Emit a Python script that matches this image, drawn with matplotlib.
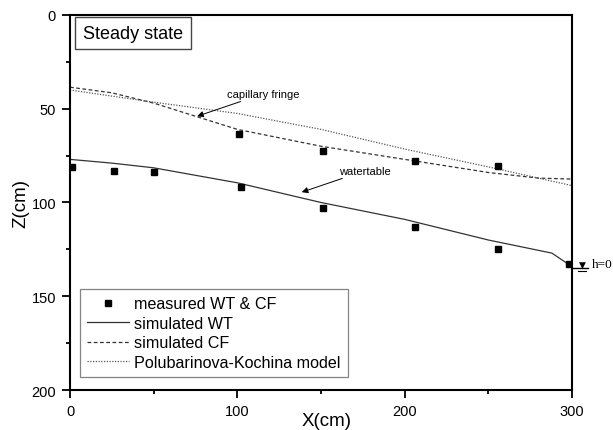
import matplotlib
matplotlib.use("Agg")
import matplotlib.pyplot as plt
from matplotlib.ticker import MultipleLocator

plt.rcParams['font.family'] = ['Liberation Sans', 'DejaVu Sans']

# measured points (water table and capillary fringe)
meas_wt_x = [1, 26, 50, 102, 151, 206, 256, 298]
meas_wt_z = [81, 83, 84, 92, 103, 113, 125, 133]
meas_cf_x = [101, 151, 206, 256]
meas_cf_z = [63.5, 72.5, 78, 80.5]

# simulated water table
sim_wt_x = [0, 25, 50, 100, 150, 200, 250, 288, 298]
sim_wt_z = [77, 79, 81.5, 89.5, 100, 109, 120, 127, 133]

# simulated capillary fringe
sim_cf_x = [0, 25, 50, 75, 100, 150, 200, 250, 280, 300]
sim_cf_z = [38.5, 41.5, 47, 54, 61, 70, 77, 84, 87, 87.5]

# Polubarinova-Kochina model
pk_x = [0, 50, 100, 150, 200, 250, 300]
pk_z = [40, 46.5, 52.5, 61, 71.5, 81, 91]

fig = plt.figure(figsize=(6.13, 4.31), dpi=100)
ax = fig.add_axes([0.1142, 0.0928, 0.8189, 0.8701])

ax.plot(meas_wt_x + meas_cf_x, meas_wt_z + meas_cf_z, 's', color='black',
        markersize=4, linestyle='none', label='measured WT & CF', zorder=5)
ax.plot(sim_wt_x, sim_wt_z, '-', color='#333333', lw=0.9, label='simulated WT')
ax.plot(sim_cf_x, sim_cf_z, color='#333333', lw=0.9, linestyle=(0, (3, 2)),
        label='simulated CF')
ax.plot(pk_x, pk_z, color='#555555', lw=0.9, linestyle=(0, (1, 1.2)),
        label='Polubarinova-Kochina model')

ax.set_xlim(0, 300)
ax.set_ylim(200, 0)
ax.xaxis.set_major_locator(MultipleLocator(100))
ax.xaxis.set_minor_locator(MultipleLocator(50))
ax.yaxis.set_major_locator(MultipleLocator(50))
ax.yaxis.set_minor_locator(MultipleLocator(25))
ax.tick_params(which='major', direction='out', length=6, width=1.3,
               labelsize=10.5, pad=4)
ax.tick_params(which='minor', direction='out', length=3, width=1.3)
for s in ax.spines.values():
    s.set_linewidth(1.5)

ax.set_xlabel('X(cm)', fontsize=13.5, va='center')
ax.xaxis.set_label_coords(0.511, -0.08)
ax.set_ylabel('Z(cm)', fontsize=13.5, va='center')
ax.yaxis.set_label_coords(-0.098, 0.5)

ax.text(0.026, 0.951, 'Steady state', transform=ax.transAxes, fontsize=13,
        va='center', ha='left',
        bbox=dict(boxstyle='square,pad=0.42', fc='white', ec='#444444', lw=1.0))

ax.annotate('capillary fringe', xy=(76, 54), xytext=(94, 42), fontsize=8,
            va='center', ha='left',
            arrowprops=dict(arrowstyle='-|>', color='black', lw=0.7,
                            mutation_scale=9, shrinkA=0, shrinkB=0))
ax.annotate('watertable', xy=(138.5, 94.5), xytext=(161, 83), fontsize=8,
            va='center', ha='left',
            arrowprops=dict(arrowstyle='-|>', color='black', lw=0.7,
                            mutation_scale=9, shrinkA=0, shrinkB=0))

# h=0 symbol outside right axis
fig.lines.append(plt.Line2D([573/613, 588/613], [1-268.5/431, 1-268.5/431],
                            transform=fig.transFigure, color='black', lw=1.0))
fig.lines.append(plt.Line2D([578/613, 586/613], [1-272/431, 1-272/431],
                            transform=fig.transFigure, color='black', lw=0.8))
fig.text(582/613, 1-265.5/431, '\u25bc', ha='center', va='center', fontsize=6.5,
         family=['DejaVu Sans'])
fig.text(592/613, 1-265/431, 'h=0', ha='left', va='center', fontsize=9.5,
         family=['Liberation Serif'])

leg = ax.legend(loc='lower left', bbox_to_anchor=(0.02, 0.034), fontsize=11.6,
                frameon=True, fancybox=False, edgecolor='#666666',
                handlelength=2.6, handletextpad=0.3, borderpad=0.45,
                labelspacing=0.28, borderaxespad=0)
leg.get_frame().set_linewidth(0.9)

fig.savefig('out.png', dpi=100)
